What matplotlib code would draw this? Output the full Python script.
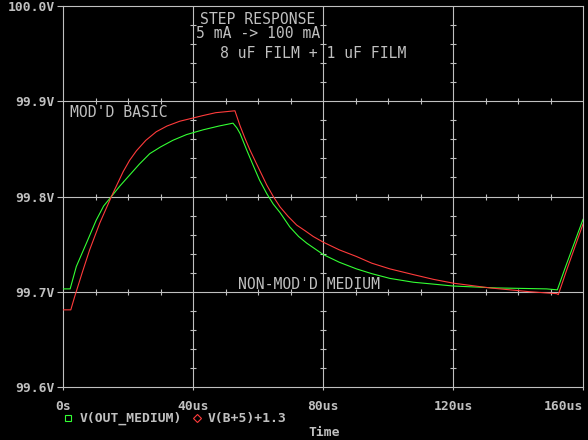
import matplotlib

matplotlib.use("Agg")
import matplotlib.pyplot as plt

# time in us, values in V
t_out = [0, 2.2, 4.1, 7.2, 10.2, 12.5, 14.9, 17.5, 20.5, 23.5, 26.7, 30.0,
         33.8, 38.0, 43.1, 48.0, 52.3, 53.5, 54.5, 56.5, 58.6, 60.5, 62.7,
         64.7, 66.8, 69.8, 72.5, 75.0, 80.1, 85.0, 90.3, 95.0, 100.6, 107.8,
         114.0, 120.1, 133.4, 148.8, 152.1, 154.5, 160]
v_out = [99.703, 99.703, 99.7265, 99.751, 99.775, 99.790, 99.800, 99.811,
         99.8225, 99.834, 99.845, 99.852, 99.859, 99.865, 99.870, 99.874,
         99.877, 99.872, 99.866, 99.849, 99.832, 99.817, 99.803, 99.792,
         99.783, 99.768, 99.758, 99.751, 99.739, 99.731, 99.724, 99.719,
         99.714, 99.710, 99.708, 99.706, 99.704, 99.703, 99.702, 99.725,
         99.776]

t_b5 = [0, 2.4, 3.6, 6.0, 8.2, 11.3, 14.9, 18.5, 20.5, 22.6, 25.5, 28.7,
        32.0, 35.9, 39.5, 43.1, 47.0, 50.0, 52.9, 53.3, 54.5, 56.0, 57.5,
        59.6, 62.7, 64.7, 66.8, 69.3, 71.9, 74.5, 77.0, 80.1, 85.0, 90.3,
        95.0, 100.6, 107.8, 114.0, 120.1, 131.4, 143.7, 151.9, 152.4, 155.0,
        160]
v_b5 = [99.681, 99.681, 99.695, 99.721, 99.744, 99.772, 99.800, 99.826,
        99.838, 99.848, 99.859, 99.868, 99.874, 99.879, 99.882, 99.885,
        99.888, 99.889, 99.890, 99.886, 99.874, 99.861, 99.849, 99.834,
        99.812, 99.800, 99.789, 99.779, 99.770, 99.764, 99.758, 99.752,
        99.744, 99.737, 99.730, 99.724, 99.718, 99.713, 99.709, 99.704,
        99.700, 99.698, 99.697, 99.723, 99.771]

x_ticks = [0, 40, 80, 120, 160]
x_labels = ["0s", "40us", "80us", "120us", "160us"]
y_ticks = [99.6, 99.7, 99.8, 99.9, 100.0]
y_labels = ["99.6V", "99.7V", "99.8V", "99.9V", "100.0V"]
x_minor = [10, 20, 30, 50, 60, 70, 90, 100, 110, 130, 140, 150]
y_minor = [99.62, 99.64, 99.66, 99.68, 99.72, 99.74, 99.76, 99.78,
           99.82, 99.84, 99.86, 99.88, 99.92, 99.94, 99.96, 99.98]

GRAY = "#c0c0c0"
GREEN = "#33ff33"
RED = "#ff3b3b"
MONO = "DejaVu Sans Mono"
W, H = 588, 440


def fx(px):
    return px / W


def fy(py):
    return 1 - py / H


fig = plt.figure(figsize=(5.88, 4.40), dpi=100, facecolor="black")
ax = fig.add_axes([fx(63), fy(387), 520 / W, 381 / H])
ax.set_facecolor("black")
ax.set_xlim(0, 160)
ax.set_ylim(99.6, 100.0)

for s in ax.spines.values():
    s.set_color(GRAY)
    s.set_linewidth(0.8)

# grid with small cross ticks
for y in y_ticks[1:-1]:
    ax.axhline(y, color=GRAY, lw=0.8, zorder=1)
    ax.plot(x_minor, [y] * len(x_minor), ls="none", marker="|", ms=5,
            mew=0.8, color=GRAY, zorder=1)
for x in x_ticks[1:-1]:
    ax.axvline(x, color=GRAY, lw=0.8, zorder=1)
    ax.plot([x] * len(y_minor), y_minor, ls="none", marker="_", ms=5,
            mew=0.8, color=GRAY, zorder=1)

ax.plot(t_out, v_out, color=GREEN, lw=0.8, zorder=3)
ax.plot(t_b5, v_b5, color=RED, lw=0.8, zorder=4)

ax.set_xticks(x_ticks)
ax.set_xticklabels(x_labels)
ax.set_yticks(y_ticks)
ax.set_yticklabels(y_labels)
ax.tick_params(axis="y", colors=GRAY, length=4.5, width=0.8, pad=1.5,
               labelsize=9.4)
ax.tick_params(axis="x", colors=GRAY, length=2, width=0.8, pad=7,
               labelsize=9.4)
for lab in ax.get_xticklabels() + ax.get_yticklabels():
    lab.set_fontfamily(MONO)
    lab.set_fontweight("bold")
    lab.set_color(GRAY)
ax.get_xticklabels()[-1].set_ha("right")
ax.get_xticklabels()[-1].set_x(160)

# annotations
note = dict(color=GRAY, family=MONO, fontsize=10.6, va="center", ha="left")
fig.text(fx(200), fy(20), "STEP RESPONSE", **note)
fig.text(fx(196.5), fy(34), "5 mA -> 100 mA", **note)
fig.text(fx(220.5), fy(53), "8 uF FILM + 1 uF FILM", **note)
fig.text(fx(70.5), fy(112.5), "MOD'D BASIC", **note)
fig.text(fx(237.5), fy(284), "NON-MOD'D MEDIUM", **note)

# legend row
fig.lines.append(plt.Line2D([fx(68)], [fy(418)], transform=fig.transFigure,
                            ls="none", marker="s", ms=5, mfc="none",
                            mec=GREEN, mew=0.8))
fig.lines.append(plt.Line2D([fx(197)], [fy(418)], transform=fig.transFigure,
                            ls="none", marker="D", ms=4.5, mfc="none",
                            mec=RED, mew=0.8))
leg = dict(color=GRAY, family=MONO, fontsize=9.4, weight="bold",
           va="center", ha="left")
fig.text(fx(79.5), fy(418), "V(OUT_MEDIUM)", **leg)
fig.text(fx(208), fy(418), "V(B+5)+1.3", **leg)
fig.text(fx(324), fy(432), "Time", **dict(leg, ha="center"))

fig.savefig("out.png", dpi=100, facecolor="black")
